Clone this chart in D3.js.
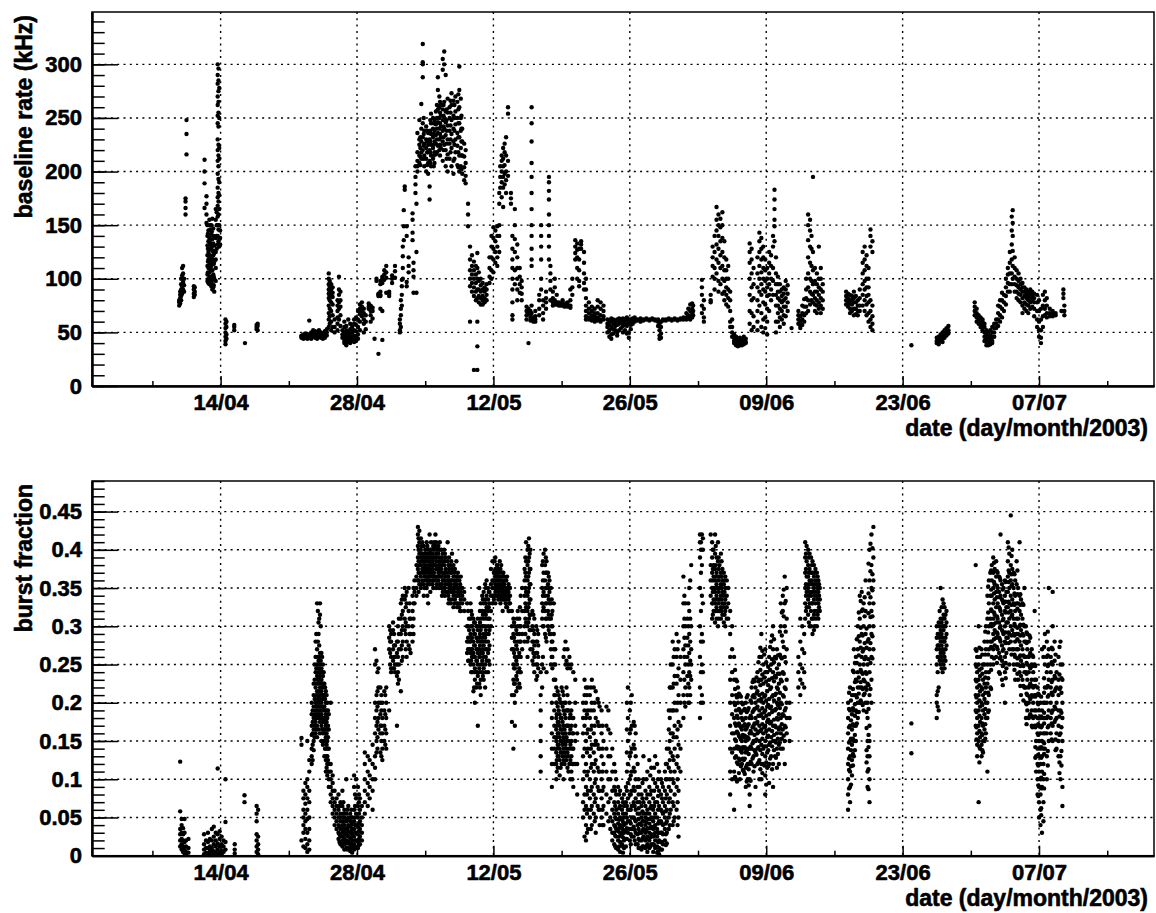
<!DOCTYPE html>
<html>
<head>
<meta charset="utf-8">
<script src="https://cdn.jsdelivr.net/npm/d3@7"></script>
<style>
  body { margin: 0; background: #fff; }
</style>
</head>
<body>
<svg id="chart" width="1156" height="913"></svg>
<script>
// each column: [days since 01/04/2003, value, value, ...]
const rateEarly = [
  [8.75, 75, 78, 80], [8.85, 77, 82, 85, 88], [8.95, 80, 84, 90, 95, 100], [9.05, 86, 93, 103, 110],
  [9.15, 90, 97, 105, 112], [9.25, 88, 94, 100], [9.4, 160, 166, 172, 175], [9.5, 216, 235, 248],
  [10.25, 83, 86, 90, 93], [10.35, 85, 88, 92],
  [11.35, 211, 200, 189, 166], [11.55, 177, 170, 160, 152], [11.65, 150, 140, 131, 122, 112, 104, 98],
  [11.75, 145, 135, 125, 118, 110, 100, 96], [11.85, 155, 138, 128, 119, 113, 106, 99, 95],
  [11.95, 146, 132, 121, 115, 109, 102, 97], [12.05, 150, 141, 128, 120, 112, 101, 93],
  [12.15, 156, 137, 126, 118, 108, 95, 90], [12.25, 147, 133, 122, 114, 104, 92],
  [12.35, 131, 124, 116, 100, 88], [12.5, 165, 155, 138, 125, 118, 110, 98], [12.6, 162, 150, 140, 128],
  [12.7, 300, 290, 282, 270, 262, 252, 245, 230, 220, 210, 198, 185, 176, 168, 158, 150, 140, 132],
  [12.78, 296, 285, 275, 265, 255, 242, 225, 215, 205, 193, 180, 172, 160, 146, 135],
  [12.86, 278, 250, 222, 212, 190, 178, 165, 150, 138, 130], [12.95, 145, 138, 132],
  [13.5, 62, 58, 54, 50, 46, 42, 39], [13.6, 60, 55, 48, 44], [14.4, 52, 55, 57], [15.5, 40],
  [16.7, 53, 55, 57], [16.8, 52, 56, 58],
  [21.3, 47, 46, 45], [21.5, 48, 46, 44], [21.7, 47, 45, 49], [21.9, 46, 44, 48], [22.1, 61, 48, 45],
  [22.3, 47, 50, 44], [22.5, 52, 48, 46], [22.7, 49, 45, 51], [22.9, 47, 44, 50], [23.1, 48, 46, 52],
  [23.3, 50, 45, 47], [23.5, 46, 44, 49], [23.7, 48, 45, 51], [23.9, 50, 47, 53],
  [24.1, 105, 100, 95, 90, 86, 82, 75, 68, 62, 55], [24.2, 98, 93, 88, 84, 80, 72, 65, 58],
  [24.35, 95, 90, 85, 78, 70, 60, 52], [24.5, 92, 87, 83, 76, 66, 55], [24.7, 62, 55, 50],
  [25.0, 80, 75, 70, 64, 58, 52], [25.15, 102, 90, 85, 78, 72, 62], [25.3, 88, 80, 74, 66, 56],
  [25.5, 52, 48, 45], [25.7, 60, 55, 50, 46, 42, 40], [25.9, 56, 52, 48, 45, 41, 38],
  [26.1, 62, 50, 47, 44, 41], [26.3, 58, 53, 49, 45, 42, 40], [26.5, 55, 50, 46, 43],
  [26.7, 62, 58, 52, 47, 44, 41], [26.9, 64, 57, 51, 46, 42], [27.1, 70, 62, 55, 48, 44],
  [27.3, 76, 72, 67, 60, 52], [27.5, 78, 74, 70, 65], [27.7, 72, 68, 62, 58, 50], [27.9, 66, 60, 53],
  [28.2, 77, 74, 72], [28.4, 75, 72, 70, 66, 60], [28.6, 73, 70, 63], [28.8, 44], [29.0, 100, 98],
  [29.2, 86, 85, 84, 30], [29.4, 98, 95, 88, 85, 84, 72], [29.6, 102, 100, 96, 70, 43],
  [29.8, 108, 104, 99]
];
const rateMid = [
  [30.0, 112, 106, 101, 87], [30.3, 84, 86, 88], [30.6, 103, 100, 96], [30.9, 112, 107, 101],
  [31.4, 62, 58, 52, 50], [31.5, 80, 72, 66, 55], [31.6, 99, 93, 85, 75], [31.7, 130, 121, 110, 100],
  [31.8, 164, 149, 136], [31.9, 186, 183], [32.1, 149, 140, 97, 93], [32.3, 120, 112, 106],
  [32.7, 161, 155, 143, 136], [32.8, 115, 108, 102, 87], [33.0, 205, 195, 188, 180], [33.1, 87, 125, 170],
  [33.2, 218, 210, 205, 236, 200], [33.4, 225, 215, 208, 248, 230], [33.6, 263, 240, 228, 218, 212],
  [33.75, 319, 302, 300, 288, 245, 232, 220], [33.9, 238, 226, 215, 205], [34.1, 242, 230, 222, 212, 200],
  [34.3, 236, 225, 218, 208, 198], [34.45, 230, 220, 210, 186, 174], [34.6, 254, 245, 235, 225, 215, 205],
  [34.8, 250, 240, 232, 222, 212], [34.95, 248, 238, 228, 218, 208], [35.1, 256, 244, 234, 226, 216],
  [35.3, 288, 276, 258, 246, 236, 224], [35.45, 270, 260, 250, 240, 230, 220], [35.6, 262, 252, 242, 232, 222],
  [35.8, 295, 305, 258, 248, 238, 228, 210], [35.95, 312, 300, 265, 250, 240, 225],
  [36.1, 290, 256, 246, 234, 220, 205], [36.3, 268, 255, 243, 230, 216, 200], [36.5, 260, 250, 238, 226, 212],
  [36.7, 273, 262, 248, 235, 222, 205], [36.9, 266, 252, 240, 228, 210, 198], [37.1, 270, 256, 244, 230, 218],
  [37.3, 265, 250, 236, 224, 206], [37.5, 298, 276, 260, 245, 232, 215, 200], [37.65, 268, 250, 238, 222, 205],
  [37.8, 240, 228, 215, 198], [38.0, 226, 214, 204, 192], [38.15, 220, 208, 196, 189], [38.4, 170, 160, 149],
  [38.6, 130, 118, 108, 100, 93, 60], [38.8, 122, 112, 104, 96, 88], [39.0, 116, 108, 100, 92, 84, 15],
  [39.2, 112, 104, 96, 88, 80], [39.35, 124, 110, 100, 90, 82, 60, 37, 15], [39.5, 106, 98, 90, 84, 78],
  [39.7, 100, 94, 88, 82, 76], [39.9, 96, 90, 84, 80, 76], [40.1, 92, 88, 82, 78], [40.3, 95, 90, 85, 80],
  [40.6, 120, 110, 102, 96], [40.8, 140, 130, 120, 108, 100], [41.0, 148, 138, 128, 118, 106],
  [41.2, 145, 135, 125, 115], [41.4, 149, 140, 130, 120, 112], [41.6, 180, 170, 150, 140, 125],
  [41.7, 205, 195, 185], [41.85, 215, 210, 200, 190, 176], [42.0, 222, 212, 205, 195, 185, 167],
  [42.15, 226, 218, 206, 198, 188], [42.3, 232, 215, 200, 192, 180], [42.5, 260, 254, 210, 196],
  [42.8, 180, 175, 170], [42.95, 140, 128, 118, 110, 100, 90, 78, 66, 62], [43.2, 165, 150, 137, 125, 108, 95],
  [43.45, 132, 120, 110, 100, 90, 80], [43.7, 110, 102, 95, 87], [43.9, 98, 92, 86, 80],
  [44.4, 74, 70, 66, 62], [44.6, 72, 68, 40], [44.8, 70, 66, 64, 61],
  [44.92, 260, 245, 228, 208, 195, 180, 165, 150, 140, 128, 118, 112, 75, 68], [45.1, 64, 62, 60],
  [45.3, 70, 65, 62, 60], [45.7, 85, 80, 72, 66], [45.9, 150, 140, 130, 118, 100, 90], [46.1, 80, 75, 68, 62],
  [46.4, 88, 82, 78, 72], [46.7, 195, 190, 182, 174, 160, 150, 140, 130, 118], [46.85, 112, 105, 98, 90, 80],
  [47.1, 88, 82, 78, 75], [47.3, 100, 92, 80, 76], [47.5, 85, 78, 76], [47.7, 78, 76, 75], [47.9, 77, 76, 75],
  [48.1, 80, 76, 75], [48.3, 77, 76, 74], [48.6, 78, 76, 74], [48.9, 90, 80, 75, 73], [49.1, 100, 92, 85],
  [49.4, 136, 130, 124, 118], [49.6, 133, 127, 120, 110, 100], [49.8, 128, 118, 108, 98, 93],
  [50.0, 135, 132, 128], [50.3, 125, 115, 105, 96, 90], [50.5, 100, 90, 82, 75, 70, 65, 62],
  [50.8, 78, 72, 68, 64, 62], [51.1, 74, 70, 66, 63, 61], [51.4, 72, 68, 65, 62, 60],
  [51.7, 80, 74, 68, 64, 61], [52.0, 78, 72, 66, 62, 60], [52.3, 75, 70, 65, 62],
  [52.7, 62, 58, 55, 50], [52.9, 61, 57, 52, 46], [53.1, 63, 60, 55, 48, 44], [53.3, 62, 58, 53, 49],
  [53.5, 61, 59, 56, 52], [53.7, 62, 57, 50, 47], [53.9, 63, 60, 58, 52], [54.1, 62, 59, 54],
  [54.3, 63, 60, 56, 50], [54.5, 62, 58, 52], [54.7, 64, 61, 56, 49], [54.9, 62, 58, 50, 45],
  [55.1, 62, 60, 57, 53], [55.3, 63, 61, 58], [55.5, 64, 62, 60], [55.8, 62, 61], [56.1, 63, 62, 60],
  [56.4, 62, 61], [56.7, 63, 62], [57.0, 62, 61], [57.3, 63, 62], [57.6, 62, 61], [57.9, 62, 60, 56],
  [58.05, 58, 52, 47, 44], [58.2, 60, 55, 49, 45], [58.4, 62, 61], [58.7, 62, 61], [59.0, 63, 62],
  [59.3, 62, 61], [59.6, 63, 62], [59.9, 62, 61], [60.2, 63, 62], [60.5, 64, 62], [60.8, 68, 64, 62],
  [61.0, 72, 66, 63], [61.2, 76, 70, 65, 62], [61.4, 77, 72, 68, 64], [61.5, 75, 70, 66],
  [62.4, 99, 92, 85, 75, 68], [62.6, 80, 72, 64, 60]
];
const rateLate = [
  [63.3, 85, 80, 78], [63.5, 130, 120, 112, 102], [63.7, 140, 125, 110, 100, 90],
  [63.9, 167, 155, 145, 132, 118, 105], [64.1, 160, 150, 140, 128, 115, 98, 88],
  [64.3, 156, 148, 135, 122, 110, 95], [64.5, 162, 150, 138, 125, 112, 100, 86],
  [64.7, 135, 120, 108, 98, 88, 80], [64.9, 118, 108, 100, 92, 85, 76], [65.1, 112, 100, 90, 82, 74],
  [65.3, 88, 80, 70, 60, 55], [65.5, 62, 55, 50, 46], [65.7, 48, 45, 42, 40], [65.9, 46, 43, 40, 38],
  [66.1, 44, 41, 39, 37], [66.3, 45, 42, 39, 38], [66.5, 43, 40, 38], [66.7, 46, 42, 39], [66.9, 44, 41, 40],
  [67.3, 133, 125, 115, 100, 85, 70, 58], [67.5, 128, 118, 105, 92, 80, 68, 52], [67.7, 110, 95, 82, 65, 55],
  [68.1, 120, 105, 92, 80, 70, 60, 52], [68.3, 143, 135, 125, 112, 100, 88, 75],
  [68.5, 138, 128, 118, 106, 95, 85, 68, 55], [68.7, 130, 120, 110, 100, 90, 78, 62, 50],
  [68.9, 118, 108, 98, 88, 76, 64, 54], [69.1, 110, 100, 92, 84, 72, 60, 48], [69.3, 125, 115, 105, 95, 85, 70],
  [69.5, 122, 112, 100, 90, 80], [69.7, 140, 130, 110, 98, 85], [69.85, 183, 174, 165, 155, 149, 135],
  [70.0, 120, 105, 95, 85, 75, 60, 50], [70.2, 102, 95, 88, 82, 75, 68, 60], [70.4, 95, 88, 80, 72, 64, 55],
  [70.6, 90, 84, 78, 70, 62], [70.8, 92, 86, 80, 74, 66, 58], [71.0, 98, 90, 82, 74, 65], [71.2, 94, 86, 78, 70],
  [71.6, 54], [72.3, 70, 66, 62, 58], [72.5, 65, 60, 56, 54], [72.7, 75, 68, 62, 57], [72.9, 81, 74, 66, 60],
  [73.1, 100, 90, 82, 74, 68], [73.3, 160, 150, 136, 120, 105, 92, 80, 70], [73.5, 155, 145, 130, 115, 100, 88, 76],
  [73.65, 140, 128, 112, 98, 86, 80], [73.8, 195, 125, 108, 95, 85, 78], [74.0, 110, 98, 88, 82, 76, 70],
  [74.2, 105, 95, 88, 80, 75, 68], [74.4, 130, 100, 92, 85, 78, 72], [74.6, 110, 100, 90, 82, 75, 68],
  [74.8, 95, 88, 80, 72],
  [77.2, 88, 84, 80, 76], [77.4, 86, 82, 78, 74], [77.6, 85, 80, 77, 72, 68], [77.8, 84, 80, 76, 70],
  [78.0, 88, 82, 78, 72, 66], [78.2, 84, 78, 72, 67], [78.4, 80, 75, 70, 66], [78.6, 90, 82, 75, 70],
  [78.9, 125, 115, 105, 95, 85, 75], [79.1, 130, 118, 108, 98, 90, 80, 70], [79.3, 122, 112, 100, 92, 84, 76, 66],
  [79.5, 110, 100, 92, 85, 78, 68, 60], [79.7, 146, 140, 130, 80, 70, 62, 55], [79.9, 135, 125, 75, 65, 58, 52],
  [83.9, 38],
  [86.5, 45, 42, 40], [86.7, 46, 43, 41, 39], [86.9, 48, 45, 42], [87.1, 50, 47, 44, 41], [87.3, 52, 48, 45],
  [87.5, 54, 50, 47], [87.7, 56, 52, 49],
  [90.4, 78, 74, 70, 66], [90.6, 72, 68, 64, 60], [90.8, 66, 62, 60, 58], [91.0, 64, 62, 58, 55],
  [91.2, 62, 60, 56, 52], [91.4, 58, 55, 50, 46, 42], [91.6, 52, 48, 44, 41, 38], [91.8, 50, 46, 43, 40, 38],
  [92.0, 52, 47, 44, 41, 39], [92.2, 55, 50, 46, 42, 40], [92.4, 58, 54, 50, 46], [92.6, 62, 58, 54],
  [92.8, 75, 68, 62, 56], [93.0, 80, 74, 66, 60], [93.2, 87, 80, 72, 64], [93.4, 85, 78, 70],
  [93.6, 100, 92, 84, 76], [93.8, 110, 104, 96, 88], [94.0, 125, 115, 105, 95, 88],
  [94.2, 158, 145, 132, 118, 105, 95], [94.3, 164, 152, 140, 126, 112, 100], [94.5, 120, 110, 102, 95, 88],
  [94.7, 108, 100, 94, 88, 82], [94.9, 105, 98, 92, 86, 80], [95.1, 100, 95, 90, 85, 78],
  [95.3, 96, 92, 88, 82, 75, 68], [95.5, 92, 88, 84, 78, 72], [95.7, 90, 86, 82, 76, 70],
  [95.9, 88, 84, 80, 75, 68], [96.1, 90, 86, 82, 78, 72], [96.3, 88, 84, 80, 74], [96.5, 86, 82, 78, 72, 65],
  [96.8, 85, 78, 70, 62, 55], [97.0, 80, 70, 60, 52, 46], [97.2, 72, 62, 52, 45, 40], [97.4, 85, 75, 65, 55],
  [97.6, 88, 80, 72, 66], [97.8, 82, 75, 68, 64], [98.1, 72, 68, 65], [98.4, 70, 67, 65], [98.7, 68, 66],
  [99.3, 70], [99.5, 90, 86, 82], [99.6, 75, 70, 66]
];
// extra readings in the densest stretches
const rateDense = [
  [11.7, 142, 128, 116, 106, 97], [11.9, 150, 134, 122, 112, 102], [12.1, 144, 130, 118, 108, 98],
  [12.3, 140, 126, 114, 102, 94],
  [33.5, 232, 222, 214, 206], [33.85, 250, 235, 224, 212], [34.2, 238, 228, 218, 206],
  [34.52, 248, 238, 228, 218, 208], [34.88, 245, 235, 225, 215, 205], [35.2, 262, 250, 240, 230, 218],
  [35.52, 265, 255, 245, 235, 225, 215], [35.88, 262, 252, 242, 232, 220], [36.2, 258, 248, 238, 226, 212],
  [36.6, 266, 255, 243, 230, 218], [37.0, 262, 250, 238, 225, 212], [37.4, 272, 258, 245, 232, 218, 204],
  [37.72, 252, 240, 228, 215, 202]
];

const burstEarly = [
  [8.85, 0.123, 0.058, 0.035, 0.028, 0.02, 0.012], [9.0, 0.048, 0.04, 0.03, 0.022, 0.015, 0.008],
  [9.15, 0.036, 0.028, 0.02, 0.012, 0.005], [9.3, 0.048, 0.03, 0.018, 0.008, 0.003],
  [9.45, 0.02, 0.012, 0.005, 0.002], [9.7, 0.022, 0.01, 0.004],
  [11.3, 0.028, 0.015, 0.008, 0.002], [11.5, 0.02, 0.01, 0.004], [11.7, 0.03, 0.018, 0.01, 0.003],
  [11.9, 0.022, 0.012, 0.006, 0.001], [12.1, 0.035, 0.02, 0.01, 0.004], [12.3, 0.038, 0.025, 0.015, 0.006, 0.002],
  [12.5, 0.03, 0.02, 0.012, 0.005], [12.7, 0.114, 0.028, 0.016, 0.008, 0.002], [12.9, 0.032, 0.022, 0.012, 0.004],
  [13.1, 0.025, 0.015, 0.007, 0.002], [13.3, 0.02, 0.012, 0.005], [13.5, 0.1, 0.044, 0.018, 0.008],
  [14.45, 0.015, 0.008, 0.003], [15.45, 0.079, 0.07],
  [16.7, 0.065, 0.055, 0.045, 0.028, 0.02, 0.012, 0.005], [16.85, 0.06, 0.025, 0.015, 0.008, 0.002],
  [21.3, 0.154, 0.145, 0.02], [21.5, 0.085, 0.075, 0.06, 0.05, 0.04, 0.03, 0.012],
  [21.7, 0.095, 0.08, 0.068, 0.055, 0.045, 0.035, 0.022, 0.01],
  [21.9, 0.15, 0.1, 0.09, 0.075, 0.06, 0.048, 0.03, 0.015, 0.005],
  [22.1, 0.125, 0.11, 0.085, 0.07, 0.05, 0.035, 0.02, 0.008],
  [22.35, 0.2, 0.185, 0.17, 0.158, 0.14, 0.13, 0.12], [22.55, 0.225, 0.21, 0.195, 0.18, 0.165, 0.15, 0.138],
  [22.75, 0.28, 0.26, 0.24, 0.22, 0.2, 0.19, 0.175, 0.16],
  [22.9, 0.33, 0.27, 0.25, 0.235, 0.215, 0.2, 0.185, 0.17, 0.155],
  [23.05, 0.305, 0.29, 0.255, 0.24, 0.225, 0.21, 0.195, 0.18, 0.165],
  [23.2, 0.33, 0.315, 0.265, 0.25, 0.235, 0.22, 0.205, 0.19, 0.175, 0.16],
  [23.35, 0.265, 0.245, 0.23, 0.215, 0.2, 0.185, 0.17, 0.15],
  [23.5, 0.25, 0.235, 0.22, 0.205, 0.19, 0.175, 0.16, 0.145],
  [23.65, 0.225, 0.21, 0.195, 0.18, 0.165, 0.15, 0.13],
  [23.8, 0.215, 0.2, 0.185, 0.17, 0.155, 0.14, 0.125, 0.11],
  [23.95, 0.2, 0.18, 0.165, 0.15, 0.13, 0.12, 0.105], [24.1, 0.185, 0.165, 0.14, 0.12, 0.11, 0.1, 0.09],
  [24.3, 0.2, 0.12, 0.11, 0.1, 0.09, 0.08, 0.07], [24.5, 0.105, 0.095, 0.085, 0.075, 0.065, 0.055],
  [24.7, 0.085, 0.07, 0.06, 0.05, 0.04], [24.9, 0.075, 0.065, 0.055, 0.045, 0.035],
  [25.1, 0.08, 0.06, 0.05, 0.04, 0.03, 0.022], [25.3, 0.07, 0.055, 0.045, 0.035, 0.025, 0.015],
  [25.5, 0.085, 0.065, 0.05, 0.04, 0.03, 0.02, 0.012], [25.7, 0.06, 0.05, 0.04, 0.03, 0.022, 0.015, 0.008],
  [25.9, 0.1, 0.055, 0.045, 0.035, 0.028, 0.02, 0.01], [26.1, 0.065, 0.05, 0.04, 0.032, 0.025, 0.018, 0.01],
  [26.3, 0.055, 0.045, 0.038, 0.03, 0.022, 0.015, 0.006], [26.5, 0.05, 0.042, 0.035, 0.028, 0.02, 0.012, 0.004],
  [26.7, 0.105, 0.09, 0.06, 0.045, 0.035, 0.025, 0.015, 0.008], [26.9, 0.1, 0.075, 0.055, 0.04, 0.03, 0.02, 0.01],
  [27.1, 0.09, 0.065, 0.05, 0.038, 0.028, 0.018, 0.01], [27.3, 0.075, 0.06, 0.045, 0.035, 0.025, 0.015],
  [27.5, 0.065, 0.05, 0.04, 0.03, 0.02], [27.8, 0.135, 0.12, 0.1, 0.085, 0.07, 0.055],
  [28.1, 0.13, 0.11, 0.095, 0.08, 0.065], [28.3, 0.125, 0.105, 0.09, 0.075], [28.6, 0.145, 0.12, 0.1, 0.085, 0.06],
  [28.85, 0.27, 0.25, 0.2, 0.18, 0.16, 0.13, 0.115, 0.1], [29.0, 0.255, 0.21, 0.19, 0.17, 0.15, 0.135],
  [29.2, 0.245, 0.22, 0.2, 0.18, 0.165], [29.4, 0.22, 0.2, 0.185, 0.16, 0.135, 0.17],
  [29.6, 0.2, 0.18, 0.16, 0.14, 0.125], [29.8, 0.215, 0.19, 0.17, 0.15]
];
const burstMid = [
  [30.0, 0.22, 0.2, 0.18, 0.16, 0.14], [30.3, 0.3, 0.285, 0.27, 0.19], [30.5, 0.29, 0.28, 0.26, 0.245, 0.24],
  [30.7, 0.305, 0.295, 0.27, 0.255, 0.245], [30.9, 0.275, 0.26, 0.25, 0.24], [31.1, 0.28, 0.265, 0.25, 0.235, 0.17],
  [31.3, 0.31, 0.29, 0.27, 0.25, 0.23], [31.5, 0.33, 0.31, 0.29, 0.27, 0.215], [31.7, 0.34, 0.32, 0.3, 0.28, 0.26],
  [31.9, 0.35, 0.335, 0.31, 0.295], [32.1, 0.345, 0.33, 0.3, 0.28, 0.26], [32.3, 0.35, 0.32, 0.3, 0.275],
  [32.5, 0.31, 0.29, 0.265], [32.7, 0.34, 0.32, 0.3, 0.28], [32.9, 0.36, 0.345, 0.33],
  [33.1, 0.38, 0.365, 0.35, 0.34], [33.25, 0.43, 0.42, 0.405, 0.39, 0.375, 0.36],
  [33.4, 0.425, 0.41, 0.395, 0.38, 0.37, 0.355], [33.55, 0.415, 0.4, 0.39, 0.38, 0.365, 0.35],
  [33.7, 0.41, 0.395, 0.385, 0.375, 0.36], [33.85, 0.405, 0.39, 0.38, 0.37, 0.355, 0.34],
  [34.0, 0.4, 0.39, 0.38, 0.37, 0.36], [34.15, 0.41, 0.395, 0.385, 0.375, 0.365, 0.35],
  [34.3, 0.4, 0.39, 0.38, 0.37, 0.36, 0.33], [34.45, 0.42, 0.395, 0.385, 0.375, 0.365, 0.355],
  [34.6, 0.41, 0.4, 0.39, 0.38, 0.37], [34.75, 0.395, 0.385, 0.375, 0.365, 0.355],
  [34.9, 0.41, 0.4, 0.39, 0.38, 0.37, 0.36], [35.05, 0.42, 0.405, 0.39, 0.38, 0.365],
  [35.2, 0.4, 0.39, 0.375, 0.365, 0.355], [35.35, 0.405, 0.395, 0.38, 0.37, 0.36],
  [35.5, 0.41, 0.39, 0.38, 0.37, 0.355], [35.65, 0.4, 0.385, 0.375, 0.365, 0.35],
  [35.8, 0.395, 0.385, 0.37, 0.36, 0.345], [35.95, 0.4, 0.38, 0.37, 0.36, 0.35],
  [36.1, 0.39, 0.375, 0.365, 0.355, 0.345], [36.3, 0.41, 0.385, 0.37, 0.36, 0.345],
  [36.45, 0.39, 0.375, 0.36, 0.35, 0.335], [36.6, 0.38, 0.37, 0.355, 0.345, 0.33],
  [36.75, 0.395, 0.375, 0.36, 0.345], [36.9, 0.38, 0.365, 0.35, 0.34, 0.325], [37.05, 0.375, 0.36, 0.35, 0.335],
  [37.2, 0.385, 0.365, 0.355, 0.34, 0.33], [37.35, 0.37, 0.36, 0.345, 0.33], [37.5, 0.36, 0.35, 0.34, 0.325],
  [37.65, 0.365, 0.345, 0.335, 0.32], [37.8, 0.35, 0.34, 0.33], [38.0, 0.345, 0.335, 0.32],
  [38.3, 0.33, 0.3, 0.28, 0.265], [38.5, 0.31, 0.295, 0.28, 0.27, 0.255],
  [38.65, 0.33, 0.31, 0.29, 0.28, 0.265, 0.25], [38.8, 0.315, 0.3, 0.285, 0.27, 0.26, 0.24],
  [38.95, 0.31, 0.295, 0.28, 0.265, 0.25, 0.215], [39.1, 0.305, 0.29, 0.275, 0.26, 0.245, 0.23, 0.2],
  [39.25, 0.3, 0.285, 0.27, 0.255, 0.24, 0.22], [39.4, 0.31, 0.295, 0.28, 0.265, 0.25, 0.235, 0.17],
  [39.55, 0.35, 0.3, 0.285, 0.27, 0.26, 0.245, 0.225], [39.7, 0.33, 0.31, 0.295, 0.28, 0.265, 0.25, 0.23, 0.21],
  [39.85, 0.34, 0.32, 0.3, 0.285, 0.27, 0.255, 0.24], [40.0, 0.345, 0.33, 0.31, 0.29, 0.275, 0.26, 0.245, 0.23],
  [40.15, 0.355, 0.335, 0.32, 0.3, 0.285, 0.27, 0.25, 0.22], [40.3, 0.36, 0.34, 0.325, 0.31, 0.29, 0.27, 0.255],
  [40.45, 0.35, 0.335, 0.32, 0.3, 0.28, 0.265, 0.24], [40.6, 0.345, 0.33, 0.31, 0.295, 0.275, 0.25],
  [40.75, 0.375, 0.355, 0.34, 0.32, 0.3], [40.9, 0.385, 0.36, 0.35, 0.34, 0.33],
  [41.05, 0.37, 0.36, 0.35, 0.34, 0.335], [41.2, 0.39, 0.375, 0.365, 0.355, 0.345, 0.33],
  [41.35, 0.38, 0.37, 0.36, 0.35, 0.34], [41.5, 0.375, 0.365, 0.355, 0.345, 0.335],
  [41.65, 0.385, 0.37, 0.36, 0.35, 0.34], [41.8, 0.38, 0.365, 0.355, 0.345, 0.335],
  [41.95, 0.37, 0.36, 0.35, 0.34, 0.32], [42.1, 0.365, 0.355, 0.345, 0.335], [42.25, 0.36, 0.35, 0.34, 0.33],
  [42.4, 0.365, 0.35, 0.34, 0.325], [42.55, 0.355, 0.345, 0.335, 0.32], [42.7, 0.35, 0.34, 0.33],
  [42.9, 0.32, 0.3, 0.285, 0.27, 0.21, 0.175], [43.05, 0.31, 0.29, 0.27, 0.25, 0.23, 0.14],
  [43.2, 0.3, 0.28, 0.26, 0.245, 0.225, 0.2, 0.17], [43.35, 0.295, 0.275, 0.255, 0.235, 0.215],
  [43.5, 0.32, 0.3, 0.28, 0.26, 0.24, 0.22], [43.65, 0.31, 0.29, 0.265, 0.245, 0.225],
  [43.8, 0.34, 0.3, 0.28, 0.26, 0.24], [43.95, 0.35, 0.32, 0.29, 0.27],
  [44.2, 0.375, 0.36, 0.34, 0.32, 0.3, 0.28], [44.35, 0.41, 0.385, 0.365, 0.345, 0.325, 0.305],
  [44.5, 0.4, 0.38, 0.36, 0.34, 0.32, 0.3, 0.28, 0.26], [44.65, 0.415, 0.39, 0.37, 0.35, 0.33, 0.31],
  [44.8, 0.4, 0.375, 0.355, 0.335, 0.315, 0.295, 0.27], [45.0, 0.32, 0.3, 0.28, 0.27, 0.255],
  [45.2, 0.31, 0.29, 0.275, 0.26, 0.24], [45.4, 0.3, 0.28, 0.265, 0.25, 0.23], [45.6, 0.29, 0.275, 0.26, 0.245],
  [45.85, 0.24, 0.21, 0.19, 0.17, 0.15, 0.13, 0.11], [46.0, 0.38, 0.35, 0.33, 0.31, 0.25, 0.22],
  [46.15, 0.395, 0.37, 0.345, 0.325, 0.3, 0.245], [46.3, 0.4, 0.38, 0.36, 0.34, 0.32, 0.29],
  [46.45, 0.385, 0.37, 0.35, 0.33, 0.31, 0.28, 0.24], [46.6, 0.37, 0.355, 0.34, 0.32, 0.3],
  [46.75, 0.36, 0.345, 0.33, 0.31, 0.29], [46.9, 0.35, 0.33, 0.31, 0.29, 0.27, 0.25],
  [47.05, 0.32, 0.3, 0.28, 0.26, 0.245], [47.2, 0.33, 0.29, 0.27, 0.25, 0.23], [47.35, 0.27, 0.25, 0.23, 0.21],
  [47.0, 0.2, 0.18, 0.16, 0.14, 0.12, 0.09], [47.25, 0.21, 0.19, 0.17, 0.155, 0.14, 0.12],
  [47.45, 0.22, 0.2, 0.18, 0.165, 0.15, 0.135, 0.12, 0.1], [47.6, 0.215, 0.195, 0.175, 0.16, 0.145, 0.13, 0.115],
  [47.8, 0.205, 0.185, 0.17, 0.155, 0.14, 0.125, 0.105], [48.0, 0.22, 0.2, 0.18, 0.165, 0.15, 0.135, 0.12],
  [48.2, 0.26, 0.21, 0.19, 0.17, 0.155, 0.14, 0.125, 0.1], [48.4, 0.28, 0.25, 0.2, 0.18, 0.16, 0.145, 0.13],
  [48.6, 0.27, 0.245, 0.21, 0.19, 0.17, 0.15, 0.135, 0.115], [48.8, 0.26, 0.2, 0.18, 0.16, 0.14, 0.12],
  [49.0, 0.25, 0.19, 0.17, 0.15, 0.13, 0.11], [49.2, 0.24, 0.18, 0.16, 0.14, 0.12, 0.09],
  [49.4, 0.23, 0.2, 0.17, 0.15, 0.12], [49.6, 0.16, 0.12, 0.08],
  [50.2, 0.2, 0.18, 0.16, 0.13, 0.1, 0.07, 0.05], [50.35, 0.23, 0.21, 0.19, 0.17, 0.14, 0.11, 0.08, 0.06, 0.025],
  [50.5, 0.22, 0.2, 0.18, 0.15, 0.12, 0.09, 0.065, 0.04, 0.02], [50.7, 0.22, 0.19, 0.165, 0.14, 0.11, 0.085, 0.06, 0.035],
  [50.9, 0.21, 0.18, 0.155, 0.13, 0.1, 0.075, 0.05], [51.1, 0.23, 0.2, 0.17, 0.145, 0.12, 0.09, 0.065, 0.04],
  [51.3, 0.22, 0.19, 0.16, 0.135, 0.11, 0.08, 0.055], [51.5, 0.215, 0.18, 0.15, 0.125, 0.1, 0.075, 0.05, 0.03],
  [51.7, 0.205, 0.175, 0.145, 0.115, 0.09, 0.065], [51.9, 0.195, 0.17, 0.14, 0.11, 0.085, 0.06, 0.04],
  [52.1, 0.19, 0.16, 0.13, 0.1, 0.075, 0.05], [52.3, 0.15, 0.12, 0.09, 0.065, 0.04],
  [52.6, 0.195, 0.17, 0.14, 0.11, 0.08, 0.055], [52.8, 0.19, 0.165, 0.13, 0.1, 0.07, 0.045],
  [53.0, 0.16, 0.13, 0.1, 0.075, 0.05, 0.035], [53.2, 0.14, 0.11, 0.085, 0.06, 0.045, 0.03, 0.02],
  [53.4, 0.12, 0.09, 0.07, 0.055, 0.04, 0.03, 0.015], [53.6, 0.1, 0.08, 0.06, 0.048, 0.035, 0.025, 0.01],
  [53.8, 0.09, 0.07, 0.055, 0.042, 0.032, 0.02, 0.008], [54.0, 0.085, 0.065, 0.05, 0.04, 0.03, 0.018, 0.005],
  [54.2, 0.075, 0.06, 0.048, 0.038, 0.028, 0.015], [54.4, 0.08, 0.065, 0.05, 0.04, 0.03, 0.02, 0.01],
  [54.6, 0.09, 0.07, 0.055, 0.042, 0.032, 0.022, 0.012],
  [54.8, 0.22, 0.18, 0.15, 0.12, 0.095, 0.075, 0.06, 0.045, 0.03],
  [55.0, 0.19, 0.16, 0.13, 0.1, 0.08, 0.06, 0.045, 0.035, 0.02],
  [55.2, 0.21, 0.17, 0.14, 0.11, 0.085, 0.065, 0.05, 0.035, 0.025],
  [55.4, 0.175, 0.145, 0.115, 0.09, 0.07, 0.05, 0.038, 0.025],
  [55.6, 0.16, 0.13, 0.1, 0.075, 0.06, 0.045, 0.03, 0.015], [55.8, 0.12, 0.09, 0.07, 0.055, 0.04, 0.028, 0.015],
  [56.0, 0.09, 0.07, 0.055, 0.042, 0.03, 0.02, 0.01], [56.2, 0.08, 0.065, 0.05, 0.04, 0.03, 0.02, 0.008],
  [56.4, 0.13, 0.1, 0.07, 0.055, 0.045, 0.035, 0.025, 0.012], [56.6, 0.085, 0.065, 0.05, 0.04, 0.03, 0.02, 0.01],
  [56.8, 0.11, 0.08, 0.06, 0.048, 0.036, 0.025, 0.015, 0.005], [57.0, 0.125, 0.09, 0.07, 0.055, 0.042, 0.03, 0.02, 0.01],
  [57.2, 0.115, 0.085, 0.065, 0.05, 0.038, 0.028, 0.015], [57.4, 0.1, 0.075, 0.06, 0.045, 0.035, 0.025, 0.015, 0.005],
  [57.6, 0.13, 0.095, 0.07, 0.055, 0.04, 0.03, 0.02, 0.01], [57.8, 0.12, 0.09, 0.07, 0.05, 0.035, 0.025, 0.012, 0.004],
  [58.0, 0.11, 0.085, 0.065, 0.045, 0.03, 0.02, 0.01, 0.002], [58.2, 0.1, 0.08, 0.06, 0.045, 0.03, 0.018, 0.008],
  [58.4, 0.09, 0.07, 0.055, 0.04, 0.028, 0.015], [58.6, 0.11, 0.085, 0.065, 0.05, 0.035, 0.02],
  [58.8, 0.14, 0.12, 0.1, 0.08, 0.06, 0.045, 0.03, 0.016], [59.0, 0.19, 0.165, 0.14, 0.115, 0.09, 0.07, 0.05, 0.035],
  [59.2, 0.25, 0.22, 0.19, 0.16, 0.135, 0.11, 0.085, 0.06], [59.4, 0.28, 0.25, 0.22, 0.19, 0.16, 0.13, 0.1, 0.07, 0.04],
  [59.6, 0.27, 0.235, 0.2, 0.17, 0.14, 0.11, 0.08, 0.05], [59.8, 0.29, 0.26, 0.225, 0.19, 0.155, 0.12, 0.09, 0.06],
  [60.0, 0.28, 0.245, 0.21, 0.175, 0.145, 0.115, 0.085, 0.05, 0.025], [60.2, 0.26, 0.23, 0.2, 0.17, 0.14, 0.11],
  [60.5, 0.365, 0.33, 0.3, 0.27, 0.24, 0.21, 0.18], [60.7, 0.33, 0.3, 0.275, 0.25, 0.22, 0.195],
  [60.9, 0.31, 0.285, 0.26, 0.235, 0.21], [61.1, 0.35, 0.32, 0.29, 0.265, 0.24, 0.22, 0.2],
  [61.3, 0.38, 0.3, 0.27, 0.25, 0.23], [62.2, 0.42, 0.41, 0.39, 0.35, 0.3, 0.26, 0.22, 0.18],
  [62.5, 0.415, 0.4, 0.33, 0.28, 0.24, 0.2]
];
const burstLate = [
  [63.3, 0.42, 0.38, 0.36, 0.34], [63.45, 0.41, 0.39, 0.37, 0.35, 0.33, 0.31],
  [63.6, 0.4, 0.38, 0.365, 0.35, 0.335, 0.32], [63.75, 0.42, 0.395, 0.375, 0.36, 0.345, 0.33, 0.305],
  [63.9, 0.39, 0.37, 0.355, 0.34, 0.325, 0.31], [64.05, 0.41, 0.385, 0.365, 0.35, 0.335, 0.32, 0.3],
  [64.2, 0.38, 0.365, 0.35, 0.335, 0.32], [64.35, 0.395, 0.37, 0.355, 0.34, 0.325, 0.31],
  [64.5, 0.375, 0.36, 0.345, 0.33, 0.315], [64.65, 0.37, 0.355, 0.34, 0.325, 0.305],
  [64.8, 0.365, 0.35, 0.335, 0.32, 0.3], [64.95, 0.36, 0.34, 0.325, 0.31], [65.1, 0.35, 0.33, 0.31],
  [65.3, 0.32, 0.29, 0.26, 0.23, 0.2, 0.17, 0.14, 0.11, 0.08], [65.5, 0.3, 0.27, 0.24, 0.21, 0.185, 0.16, 0.135, 0.1],
  [65.7, 0.26, 0.23, 0.2, 0.18, 0.16, 0.14, 0.11, 0.06], [65.9, 0.23, 0.21, 0.19, 0.17, 0.15, 0.13, 0.1],
  [66.1, 0.22, 0.2, 0.18, 0.16, 0.14, 0.12], [66.3, 0.21, 0.19, 0.17, 0.155, 0.14, 0.125, 0.1],
  [66.5, 0.2, 0.18, 0.165, 0.15, 0.135, 0.12], [66.7, 0.19, 0.17, 0.155, 0.14, 0.125, 0.11],
  [66.9, 0.2, 0.18, 0.165, 0.15, 0.135, 0.115, 0.09], [67.1, 0.21, 0.19, 0.17, 0.155, 0.14, 0.12, 0.1],
  [67.3, 0.18, 0.16, 0.14, 0.12, 0.1, 0.08, 0.065], [67.5, 0.22, 0.2, 0.18, 0.16, 0.14, 0.12],
  [67.7, 0.23, 0.21, 0.19, 0.17, 0.15, 0.13, 0.11], [67.9, 0.22, 0.2, 0.18, 0.165, 0.15, 0.135, 0.09],
  [68.1, 0.24, 0.215, 0.195, 0.175, 0.16, 0.14, 0.12], [68.3, 0.26, 0.23, 0.21, 0.19, 0.17, 0.15, 0.125, 0.1],
  [68.5, 0.29, 0.26, 0.23, 0.205, 0.185, 0.165, 0.145, 0.12, 0.1], [68.7, 0.25, 0.225, 0.2, 0.18, 0.16, 0.14, 0.12],
  [68.9, 0.27, 0.24, 0.21, 0.19, 0.17, 0.15, 0.13, 0.105, 0.08], [69.1, 0.24, 0.215, 0.195, 0.175, 0.155, 0.135, 0.115],
  [69.3, 0.26, 0.23, 0.205, 0.185, 0.165, 0.145, 0.12, 0.095], [69.5, 0.28, 0.25, 0.22, 0.195, 0.175, 0.155, 0.13],
  [69.7, 0.3, 0.27, 0.24, 0.21, 0.19, 0.17, 0.15, 0.12, 0.09], [69.9, 0.26, 0.235, 0.21, 0.19, 0.17, 0.15, 0.13],
  [70.1, 0.27, 0.245, 0.22, 0.2, 0.18, 0.16, 0.14, 0.115], [70.3, 0.25, 0.225, 0.205, 0.185, 0.165, 0.145, 0.12],
  [70.5, 0.33, 0.3, 0.26, 0.23, 0.2, 0.18, 0.16, 0.14], [70.7, 0.34, 0.32, 0.28, 0.24, 0.21, 0.185, 0.165, 0.14],
  [70.9, 0.365, 0.33, 0.3, 0.26, 0.22, 0.19, 0.17, 0.15, 0.12], [71.1, 0.35, 0.31, 0.27, 0.23, 0.2, 0.18, 0.16],
  [71.4, 0.2, 0.18, 0.15], [72.3, 0.22, 0.24, 0.26], [72.5, 0.31, 0.28, 0.25, 0.23, 0.21],
  [72.7, 0.3, 0.27, 0.245, 0.225], [72.9, 0.29, 0.265, 0.24, 0.22],
  [73.0, 0.41, 0.39, 0.37, 0.35, 0.33, 0.31], [73.15, 0.405, 0.385, 0.365, 0.345, 0.325],
  [73.3, 0.4, 0.38, 0.365, 0.35, 0.335, 0.315], [73.45, 0.395, 0.375, 0.36, 0.345, 0.33, 0.3],
  [73.6, 0.39, 0.37, 0.355, 0.34, 0.32, 0.3], [73.75, 0.385, 0.37, 0.355, 0.345, 0.33, 0.31, 0.29],
  [73.9, 0.38, 0.365, 0.35, 0.335, 0.315, 0.295], [74.05, 0.375, 0.36, 0.345, 0.33, 0.31],
  [74.2, 0.37, 0.355, 0.34, 0.32, 0.3], [74.35, 0.36, 0.345, 0.33, 0.31], [74.5, 0.35, 0.335, 0.32],
  [77.4, 0.2, 0.18, 0.16, 0.14, 0.12, 0.1, 0.08, 0.06], [77.6, 0.22, 0.19, 0.17, 0.15, 0.13, 0.11, 0.09, 0.07],
  [77.8, 0.21, 0.185, 0.165, 0.145, 0.125, 0.105], [78.0, 0.27, 0.24, 0.21, 0.19, 0.17, 0.15, 0.13],
  [78.2, 0.26, 0.23, 0.21, 0.19, 0.17, 0.15], [78.4, 0.3, 0.27, 0.24, 0.22, 0.2, 0.18],
  [78.6, 0.34, 0.31, 0.28, 0.25, 0.22, 0.2], [78.8, 0.345, 0.32, 0.29, 0.26, 0.24, 0.22, 0.2],
  [79.0, 0.33, 0.3, 0.27, 0.25, 0.23, 0.21, 0.19], [79.2, 0.36, 0.32, 0.29, 0.26, 0.24, 0.22, 0.2],
  [79.4, 0.28, 0.25, 0.225, 0.2, 0.18, 0.15, 0.13, 0.11, 0.09],
  [79.6, 0.4, 0.36, 0.33, 0.3, 0.27, 0.24, 0.21, 0.17, 0.15, 0.13, 0.1, 0.07],
  [79.8, 0.42, 0.38, 0.35, 0.32, 0.29, 0.26, 0.23, 0.2], [80.0, 0.43, 0.39, 0.36, 0.33, 0.3, 0.27],
  [83.9, 0.173, 0.134],
  [86.5, 0.3, 0.285, 0.27, 0.25, 0.21, 0.2, 0.18], [86.7, 0.305, 0.29, 0.275, 0.26, 0.22, 0.19],
  [86.9, 0.35, 0.31, 0.295, 0.28, 0.265, 0.25], [87.1, 0.335, 0.31, 0.3, 0.285, 0.27, 0.255, 0.24],
  [87.3, 0.325, 0.31, 0.3, 0.28, 0.26, 0.245], [87.5, 0.32, 0.305, 0.29, 0.275],
  [90.5, 0.38, 0.27, 0.25, 0.23, 0.21, 0.19, 0.17], [90.65, 0.26, 0.24, 0.22, 0.2, 0.18, 0.16, 0.145, 0.13],
  [90.8, 0.3, 0.25, 0.23, 0.21, 0.19, 0.17, 0.15, 0.07], [90.95, 0.26, 0.235, 0.215, 0.195, 0.175, 0.155, 0.14],
  [91.1, 0.27, 0.245, 0.22, 0.2, 0.18, 0.16, 0.145, 0.13], [91.25, 0.25, 0.23, 0.21, 0.19, 0.17, 0.15, 0.135],
  [91.4, 0.28, 0.25, 0.225, 0.205, 0.185, 0.165, 0.15], [91.55, 0.3, 0.27, 0.24, 0.22, 0.2, 0.18, 0.16],
  [91.7, 0.34, 0.31, 0.28, 0.25, 0.225, 0.2, 0.18, 0.11], [91.85, 0.36, 0.33, 0.3, 0.27, 0.24, 0.21, 0.19],
  [92.0, 0.37, 0.34, 0.31, 0.28, 0.25, 0.22], [92.15, 0.38, 0.36, 0.34, 0.32, 0.3, 0.28, 0.26],
  [92.3, 0.39, 0.37, 0.35, 0.33, 0.31, 0.29, 0.27, 0.25], [92.45, 0.375, 0.355, 0.335, 0.315, 0.295, 0.275],
  [92.6, 0.385, 0.365, 0.345, 0.325, 0.305, 0.285, 0.26], [92.75, 0.37, 0.35, 0.33, 0.31, 0.29, 0.27],
  [92.9, 0.365, 0.345, 0.325, 0.305, 0.285, 0.265, 0.24], [93.05, 0.42, 0.36, 0.34, 0.32, 0.3, 0.28, 0.26],
  [93.2, 0.355, 0.335, 0.315, 0.295, 0.275, 0.255, 0.23], [93.35, 0.35, 0.33, 0.31, 0.29, 0.27, 0.25],
  [93.5, 0.36, 0.34, 0.32, 0.3, 0.28, 0.26, 0.24, 0.2], [93.65, 0.345, 0.325, 0.305, 0.285, 0.265, 0.245],
  [93.8, 0.41, 0.385, 0.365, 0.345, 0.325, 0.305, 0.285], [93.95, 0.395, 0.37, 0.35, 0.33, 0.31, 0.29, 0.27, 0.25],
  [94.1, 0.445, 0.38, 0.36, 0.34, 0.32, 0.3, 0.28], [94.25, 0.4, 0.375, 0.355, 0.335, 0.315, 0.295, 0.27],
  [94.4, 0.37, 0.35, 0.33, 0.31, 0.29, 0.27, 0.25], [94.55, 0.36, 0.34, 0.32, 0.3, 0.28, 0.26, 0.23],
  [94.7, 0.385, 0.355, 0.33, 0.31, 0.29, 0.27, 0.25], [94.85, 0.35, 0.33, 0.31, 0.29, 0.27, 0.25, 0.23],
  [95.0, 0.41, 0.34, 0.32, 0.3, 0.28, 0.26, 0.24], [95.15, 0.335, 0.315, 0.295, 0.275, 0.255, 0.235, 0.21],
  [95.3, 0.33, 0.31, 0.29, 0.27, 0.25, 0.23], [95.5, 0.35, 0.3, 0.28, 0.26, 0.24, 0.22],
  [95.65, 0.3, 0.28, 0.26, 0.24, 0.22, 0.2, 0.18], [95.8, 0.29, 0.27, 0.25, 0.23, 0.21, 0.19],
  [95.95, 0.28, 0.26, 0.24, 0.22, 0.2, 0.18], [96.1, 0.285, 0.265, 0.245, 0.225, 0.205, 0.185],
  [96.25, 0.27, 0.25, 0.23, 0.21, 0.19, 0.17], [96.4, 0.26, 0.24, 0.22, 0.2, 0.18],
  [96.55, 0.32, 0.25, 0.23, 0.21, 0.19, 0.17], [96.7, 0.23, 0.21, 0.19, 0.17, 0.15, 0.13, 0.11],
  [96.85, 0.22, 0.2, 0.18, 0.16, 0.14, 0.12, 0.1, 0.08], [97.0, 0.21, 0.19, 0.17, 0.15, 0.13, 0.11, 0.09, 0.07, 0.05],
  [97.15, 0.2, 0.18, 0.16, 0.14, 0.12, 0.1, 0.08, 0.06, 0.04], [97.3, 0.27, 0.19, 0.17, 0.15, 0.13, 0.11, 0.09, 0.03],
  [97.45, 0.26, 0.2, 0.18, 0.16, 0.14, 0.12, 0.1, 0.07, 0.045], [97.6, 0.29, 0.25, 0.22, 0.2, 0.18, 0.16, 0.14],
  [97.8, 0.28, 0.26, 0.24, 0.22, 0.2, 0.18, 0.16, 0.13, 0.1], [98.0, 0.35, 0.27, 0.25, 0.23, 0.21, 0.19, 0.17, 0.15],
  [98.2, 0.26, 0.24, 0.22, 0.2, 0.18, 0.16], [98.4, 0.345, 0.3, 0.27, 0.25, 0.23, 0.21, 0.19, 0.17, 0.15],
  [98.6, 0.28, 0.255, 0.235, 0.215, 0.195, 0.175], [98.8, 0.24, 0.22, 0.2, 0.18, 0.16, 0.14],
  [99.0, 0.26, 0.23, 0.21, 0.19, 0.17, 0.15, 0.13], [99.2, 0.28, 0.25, 0.22, 0.19, 0.16, 0.13, 0.1],
  [99.4, 0.25, 0.23, 0.2, 0.18, 0.15, 0.09, 0.065]
];
// extra readings in the densest stretches
const burstDense = [
  [22.45, 0.19, 0.175, 0.16, 0.145, 0.125], [22.65, 0.25, 0.23, 0.205, 0.185, 0.17, 0.155],
  [22.82, 0.29, 0.245, 0.225, 0.21, 0.195, 0.18, 0.165], [22.98, 0.32, 0.28, 0.26, 0.245, 0.23, 0.205, 0.19],
  [23.12, 0.31, 0.275, 0.26, 0.245, 0.23, 0.215, 0.2, 0.185], [23.28, 0.3, 0.255, 0.24, 0.225, 0.21, 0.195, 0.18],
  [23.42, 0.26, 0.24, 0.225, 0.21, 0.195, 0.18, 0.165], [23.58, 0.24, 0.225, 0.21, 0.195, 0.18, 0.165, 0.15],
  [23.72, 0.22, 0.205, 0.19, 0.175, 0.16, 0.14], [23.88, 0.21, 0.19, 0.175, 0.16, 0.145, 0.13, 0.115],
  [24.02, 0.19, 0.17, 0.155, 0.14, 0.125, 0.11],
  [25.2, 0.065, 0.05, 0.038, 0.028, 0.018], [25.6, 0.07, 0.055, 0.045, 0.035, 0.025, 0.018],
  [26.0, 0.06, 0.048, 0.036, 0.026, 0.016, 0.008], [26.4, 0.06, 0.05, 0.04, 0.032, 0.024, 0.016, 0.01],
  [26.8, 0.08, 0.065, 0.05, 0.04, 0.03, 0.02, 0.012], [27.2, 0.08, 0.07, 0.055, 0.042, 0.032, 0.022, 0.014],
  [29.1, 0.24, 0.215, 0.195, 0.175, 0.155, 0.14], [29.5, 0.21, 0.19, 0.17, 0.15, 0.13], [29.9, 0.21, 0.185, 0.165, 0.145],
  [30.4, 0.295, 0.28, 0.265, 0.25], [30.8, 0.29, 0.275, 0.26, 0.245], [31.2, 0.3, 0.28, 0.26, 0.24, 0.225],
  [31.6, 0.335, 0.315, 0.295, 0.275, 0.255], [32.0, 0.34, 0.325, 0.305, 0.29, 0.27], [32.4, 0.33, 0.31, 0.29, 0.27],
  [32.8, 0.35, 0.33, 0.31, 0.29],
  [33.32, 0.415, 0.4, 0.385, 0.37, 0.36, 0.345], [33.62, 0.405, 0.395, 0.385, 0.37, 0.355],
  [33.92, 0.395, 0.385, 0.375, 0.365, 0.35], [34.22, 0.405, 0.39, 0.375, 0.365, 0.355, 0.34],
  [34.52, 0.4, 0.39, 0.38, 0.37, 0.36, 0.345], [34.82, 0.405, 0.39, 0.38, 0.37, 0.36, 0.35],
  [35.12, 0.41, 0.395, 0.385, 0.375, 0.36, 0.35], [35.42, 0.4, 0.385, 0.375, 0.365, 0.35],
  [35.72, 0.39, 0.38, 0.365, 0.355, 0.34], [36.02, 0.395, 0.385, 0.37, 0.36, 0.35, 0.34],
  [36.38, 0.38, 0.365, 0.355, 0.34, 0.33], [36.68, 0.385, 0.37, 0.36, 0.35, 0.335],
  [36.98, 0.37, 0.355, 0.345, 0.33], [37.28, 0.365, 0.35, 0.34, 0.325], [37.58, 0.355, 0.345, 0.33, 0.32],
  [38.4, 0.32, 0.3, 0.285, 0.27, 0.255], [38.72, 0.32, 0.3, 0.285, 0.27, 0.255, 0.24],
  [39.02, 0.305, 0.29, 0.275, 0.26, 0.24, 0.22], [39.32, 0.3, 0.285, 0.27, 0.255, 0.24, 0.225],
  [39.62, 0.32, 0.305, 0.29, 0.275, 0.26, 0.24, 0.22], [39.92, 0.335, 0.315, 0.3, 0.28, 0.265, 0.25, 0.235],
  [40.22, 0.35, 0.33, 0.315, 0.295, 0.28, 0.26, 0.24], [40.52, 0.345, 0.325, 0.31, 0.29, 0.27, 0.255],
  [41.12, 0.385, 0.37, 0.36, 0.35, 0.34], [41.42, 0.38, 0.37, 0.36, 0.35, 0.34],
  [41.72, 0.375, 0.36, 0.35, 0.34, 0.33], [42.02, 0.37, 0.355, 0.345, 0.335],
  [42.32, 0.36, 0.345, 0.335, 0.325], [42.62, 0.35, 0.34, 0.33, 0.32],
  [43.12, 0.305, 0.285, 0.265, 0.245, 0.225, 0.21], [43.42, 0.31, 0.29, 0.27, 0.25, 0.23],
  [43.72, 0.325, 0.3, 0.28, 0.26, 0.24, 0.22], [44.28, 0.39, 0.37, 0.35, 0.33, 0.31, 0.29],
  [44.58, 0.405, 0.385, 0.365, 0.345, 0.325, 0.305, 0.285], [44.72, 0.395, 0.375, 0.355, 0.335, 0.315, 0.295],
  [45.1, 0.315, 0.295, 0.28, 0.265, 0.25], [45.5, 0.295, 0.28, 0.265, 0.25, 0.235],
  [46.08, 0.385, 0.36, 0.34, 0.32, 0.3, 0.26], [46.38, 0.39, 0.37, 0.35, 0.33, 0.31, 0.285],
  [46.68, 0.365, 0.35, 0.335, 0.315, 0.295], [46.98, 0.335, 0.315, 0.3, 0.28, 0.26],
  [47.5, 0.2, 0.185, 0.17, 0.155, 0.14, 0.125, 0.11], [47.7, 0.21, 0.19, 0.175, 0.16, 0.145, 0.13],
  [47.9, 0.2, 0.18, 0.165, 0.15, 0.135, 0.115], [48.1, 0.215, 0.195, 0.175, 0.16, 0.145, 0.13],
  [48.3, 0.27, 0.2, 0.185, 0.165, 0.15, 0.135, 0.12], [48.5, 0.255, 0.22, 0.19, 0.17, 0.155, 0.14, 0.125],
  [48.7, 0.25, 0.19, 0.17, 0.15, 0.13, 0.11], [48.9, 0.245, 0.185, 0.165, 0.145, 0.125, 0.1],
  [49.1, 0.18, 0.16, 0.14, 0.12, 0.1],
  [50.6, 0.21, 0.185, 0.16, 0.135, 0.105, 0.08, 0.055, 0.03], [51.0, 0.22, 0.19, 0.165, 0.14, 0.115, 0.085, 0.06, 0.035],
  [51.4, 0.2, 0.17, 0.145, 0.12, 0.095, 0.07, 0.045], [51.8, 0.2, 0.17, 0.14, 0.11, 0.085, 0.06],
  [52.2, 0.17, 0.14, 0.11, 0.085, 0.06, 0.04],
  [53.5, 0.11, 0.085, 0.065, 0.05, 0.038, 0.026, 0.012], [53.9, 0.08, 0.062, 0.047, 0.036, 0.025, 0.012],
  [54.3, 0.07, 0.055, 0.044, 0.034, 0.024, 0.012, 0.004], [54.7, 0.2, 0.165, 0.135, 0.11, 0.085, 0.065, 0.05, 0.036, 0.022],
  [55.1, 0.2, 0.165, 0.135, 0.105, 0.08, 0.06, 0.042, 0.028, 0.015], [55.5, 0.17, 0.14, 0.11, 0.085, 0.065, 0.048, 0.034, 0.02],
  [55.9, 0.1, 0.08, 0.062, 0.048, 0.035, 0.022, 0.01], [56.3, 0.095, 0.075, 0.058, 0.045, 0.033, 0.022, 0.012],
  [56.7, 0.1, 0.075, 0.055, 0.044, 0.033, 0.022, 0.012], [57.1, 0.105, 0.08, 0.062, 0.048, 0.036, 0.024, 0.012],
  [57.5, 0.115, 0.085, 0.065, 0.05, 0.038, 0.026, 0.014], [57.9, 0.1, 0.078, 0.06, 0.042, 0.03, 0.018, 0.006],
  [58.3, 0.095, 0.075, 0.058, 0.042, 0.03, 0.018, 0.008], [58.7, 0.12, 0.1, 0.075, 0.058, 0.042, 0.028, 0.014],
  [59.1, 0.22, 0.18, 0.15, 0.125, 0.1, 0.075, 0.055, 0.04], [59.5, 0.26, 0.225, 0.19, 0.155, 0.125, 0.095, 0.065, 0.045],
  [59.9, 0.27, 0.235, 0.2, 0.165, 0.13, 0.1, 0.07, 0.04],
  [60.6, 0.34, 0.31, 0.285, 0.26, 0.23, 0.2], [61.0, 0.33, 0.3, 0.275, 0.25, 0.225, 0.2],
  [61.2, 0.36, 0.31, 0.28, 0.255, 0.235, 0.21], [62.3, 0.41, 0.4, 0.37, 0.32, 0.28, 0.24, 0.2],
  [62.4, 0.42, 0.38, 0.34, 0.29, 0.25, 0.21],
  [63.52, 0.4, 0.375, 0.36, 0.345, 0.33, 0.315], [63.82, 0.405, 0.38, 0.365, 0.35, 0.335, 0.32],
  [64.12, 0.39, 0.375, 0.36, 0.345, 0.33, 0.31], [64.42, 0.385, 0.365, 0.35, 0.335, 0.32],
  [64.72, 0.36, 0.345, 0.33, 0.315],
  [65.8, 0.243, 0.218, 0.197, 0.173, 0.152, 0.128, 0.103], [66.0, 0.228, 0.207, 0.183, 0.162, 0.143, 0.122, 0.097],
  [66.2, 0.212, 0.192, 0.173, 0.157, 0.142, 0.127, 0.108], [66.4, 0.208, 0.187, 0.168, 0.152, 0.137, 0.117],
  [66.6, 0.198, 0.177, 0.158, 0.142, 0.127, 0.112], [66.8, 0.192, 0.172, 0.157, 0.142, 0.127, 0.107],
  [67.0, 0.207, 0.188, 0.167, 0.152, 0.137, 0.118, 0.097], [67.2, 0.193, 0.172, 0.153, 0.133, 0.113, 0.092],
  [67.4, 0.203, 0.183, 0.163, 0.143, 0.123, 0.098], [67.6, 0.227, 0.208, 0.188, 0.168, 0.147, 0.127],
  [67.8, 0.228, 0.207, 0.192, 0.173, 0.158, 0.138, 0.117], [68.0, 0.233, 0.212, 0.193, 0.173, 0.152, 0.132],
  [68.2, 0.253, 0.228, 0.203, 0.183, 0.162, 0.142, 0.122], [68.4, 0.272, 0.243, 0.223, 0.203, 0.183, 0.163, 0.138, 0.113],
  [68.6, 0.268, 0.237, 0.212, 0.193, 0.172, 0.153, 0.133, 0.108], [68.8, 0.263, 0.233, 0.208, 0.188, 0.168, 0.143, 0.118],
  [69.0, 0.253, 0.228, 0.203, 0.183, 0.163, 0.143, 0.122, 0.093], [69.2, 0.247, 0.223, 0.197, 0.178, 0.157, 0.138, 0.117],
  [69.4, 0.273, 0.243, 0.218, 0.193, 0.173, 0.148, 0.127], [69.6, 0.288, 0.257, 0.232, 0.208, 0.188, 0.163, 0.143, 0.113],
  [69.8, 0.283, 0.253, 0.228, 0.203, 0.178, 0.158, 0.138], [70.0, 0.258, 0.233, 0.212, 0.192, 0.168, 0.148, 0.128],
  [70.2, 0.262, 0.238, 0.218, 0.197, 0.178, 0.153, 0.133], [70.4, 0.293, 0.263, 0.238, 0.213, 0.193, 0.168, 0.148],
  [70.6, 0.318, 0.288, 0.258, 0.228, 0.198, 0.172, 0.153], [70.8, 0.348, 0.313, 0.273, 0.238, 0.208, 0.183, 0.157],
  [71.0, 0.333, 0.293, 0.253, 0.218, 0.193, 0.168],
  [73.08, 0.395, 0.375, 0.355, 0.34, 0.32], [73.38, 0.39, 0.37, 0.355, 0.34, 0.325, 0.305],
  [73.68, 0.38, 0.36, 0.345, 0.33, 0.31], [73.98, 0.37, 0.355, 0.34, 0.32, 0.3],
  [74.28, 0.365, 0.35, 0.335, 0.315], [74.42, 0.355, 0.34, 0.325],
  [77.5, 0.213, 0.192, 0.168, 0.148, 0.127, 0.112, 0.088], [77.7, 0.203, 0.177, 0.153, 0.138, 0.117, 0.093],
  [77.9, 0.242, 0.218, 0.193, 0.172, 0.153, 0.133, 0.118], [78.1, 0.252, 0.227, 0.198, 0.183, 0.158, 0.138],
  [78.3, 0.283, 0.252, 0.228, 0.207, 0.188, 0.173], [78.5, 0.318, 0.287, 0.262, 0.233, 0.212, 0.188],
  [78.7, 0.333, 0.298, 0.272, 0.243, 0.227, 0.203], [78.9, 0.322, 0.288, 0.267, 0.238, 0.218, 0.197],
  [79.1, 0.338, 0.313, 0.278, 0.257, 0.228, 0.212], [79.3, 0.297, 0.272, 0.238, 0.217, 0.188, 0.167, 0.138, 0.122],
  [79.5, 0.382, 0.343, 0.317, 0.283, 0.257, 0.223, 0.192, 0.158, 0.142, 0.113, 0.087],
  [79.7, 0.408, 0.372, 0.338, 0.312, 0.278, 0.252, 0.218], [79.9, 0.402, 0.368, 0.347, 0.313, 0.287, 0.258],
  [86.6, 0.29, 0.275, 0.26, 0.24, 0.215, 0.195], [86.8, 0.32, 0.3, 0.285, 0.27, 0.255],
  [87.0, 0.325, 0.305, 0.29, 0.275, 0.26, 0.245], [87.2, 0.33, 0.315, 0.295, 0.28, 0.265, 0.25],
  [87.4, 0.315, 0.3, 0.285, 0.27, 0.255],
  [90.58, 0.268, 0.247, 0.228, 0.207, 0.188, 0.168, 0.152], [90.88, 0.272, 0.243, 0.223, 0.203, 0.183, 0.163, 0.142, 0.122],
  [91.18, 0.263, 0.238, 0.218, 0.197, 0.173, 0.158, 0.138], [91.48, 0.293, 0.263, 0.233, 0.213, 0.192, 0.172, 0.153],
  [91.78, 0.352, 0.318, 0.292, 0.263, 0.232, 0.213, 0.188], [92.08, 0.373, 0.348, 0.322, 0.303, 0.273, 0.243, 0.218],
  [92.38, 0.383, 0.358, 0.343, 0.318, 0.303, 0.283, 0.258], [92.68, 0.372, 0.353, 0.338, 0.313, 0.292, 0.273, 0.252],
  [92.98, 0.363, 0.338, 0.323, 0.298, 0.283, 0.258, 0.238], [93.28, 0.348, 0.333, 0.308, 0.293, 0.268, 0.248, 0.223],
  [93.58, 0.358, 0.332, 0.318, 0.292, 0.278, 0.252, 0.232], [93.88, 0.403, 0.373, 0.358, 0.332, 0.318, 0.292, 0.278],
  [94.18, 0.392, 0.368, 0.353, 0.328, 0.313, 0.288, 0.263], [94.48, 0.368, 0.343, 0.328, 0.303, 0.288, 0.263, 0.243],
  [94.78, 0.373, 0.342, 0.323, 0.298, 0.283, 0.258, 0.238], [95.08, 0.342, 0.328, 0.302, 0.288, 0.262, 0.248, 0.222],
  [95.4, 0.328, 0.302, 0.288, 0.262, 0.248, 0.222, 0.203], [95.72, 0.292, 0.278, 0.252, 0.238, 0.212, 0.198, 0.172],
  [96.02, 0.288, 0.262, 0.248, 0.222, 0.208, 0.182], [96.32, 0.262, 0.248, 0.222, 0.208, 0.182, 0.168],
  [96.62, 0.248, 0.222, 0.208, 0.182, 0.168, 0.142, 0.128], [96.92, 0.212, 0.198, 0.172, 0.158, 0.132, 0.118, 0.092, 0.078],
  [97.22, 0.208, 0.182, 0.168, 0.142, 0.128, 0.102, 0.088, 0.062, 0.053],
  [97.52, 0.273, 0.232, 0.213, 0.187, 0.173, 0.147, 0.133, 0.107, 0.088],
  [97.9, 0.293, 0.262, 0.248, 0.222, 0.208, 0.182, 0.168, 0.137, 0.118],
  [98.3, 0.272, 0.253, 0.227, 0.213, 0.187, 0.173, 0.152], [98.7, 0.263, 0.232, 0.218, 0.192, 0.178, 0.152, 0.138],
  [99.1, 0.273, 0.237, 0.218, 0.182, 0.158, 0.122, 0.108], [99.3, 0.232, 0.213, 0.187, 0.168, 0.137, 0.118]
];

const dateTicks = ["14/04", "28/04", "12/05", "26/05", "09/06", "23/06", "07/07"];
const dateMinorTicks = ["07/04", "21/04", "05/05", "19/05", "02/06", "16/06", "30/06", "14/07"];
const rateTicks = [0, 50, 100, 150, 200, 250, 300];
const burstTicks = [0, 0.05, 0.1, 0.15, 0.2, 0.25, 0.3, 0.35, 0.4, 0.45];

const t0 = Date.UTC(2003, 3, 1);
const toDate = d => new Date(t0 + d * 864e5);
const parseDay = d3.utcParse("%d/%m/%Y");
const flatten = cols => cols.flatMap(c => c.slice(1).map(v => ({ day: c[0], value: v })));
const fontFamily = '"Liberation Sans", Arial, Helvetica, sans-serif';

const svg = d3.select("#chart");
const left = 92, right = 1154;

const x = d3.scaleUtc()
    .domain([toDate(-0.2), toDate(108.8)])
    .range([left, right]);

function drawPanel(cfg) {
  const y = d3.scaleLinear().domain([0, cfg.yMax]).range([cfg.bottom, cfg.top]);
  const g = svg.append("g");

  // grid
  const majorX = dateTicks.map(s => parseDay(s + "/2003"));
  g.selectAll(".gx").data(majorX).enter().append("line")
    .attr("x1", d => x(d)).attr("x2", d => x(d))
    .attr("y1", cfg.top).attr("y2", cfg.bottom)
    .attr("stroke", "#000").attr("stroke-width", 1.4).attr("stroke-dasharray", "2,4.3");
  g.selectAll(".gy").data(cfg.ticks.filter(v => v > 0)).enter().append("line")
    .attr("x1", left).attr("x2", right)
    .attr("y1", d => y(d)).attr("y2", d => y(d))
    .attr("stroke", "#000").attr("stroke-width", 1.4).attr("stroke-dasharray", "2,4.3");

  // points
  g.append("g").selectAll("circle").data(flatten(cfg.data)).enter().append("circle")
    .attr("cx", d => x(toDate(d.day)))
    .attr("cy", d => y(d.value))
    .attr("r", 2.2)
    .attr("fill", "#000");

  // frame
  g.append("rect")
    .attr("x", left).attr("y", cfg.top)
    .attr("width", right - left).attr("height", cfg.bottom - cfg.top)
    .attr("fill", "none").attr("stroke", "#000").attr("stroke-width", 1.5);

  // x axis
  const xMinor = d3.axisBottom(x)
    .tickValues(dateMinorTicks.map(s => parseDay(s + "/2003")))
    .tickSize(-5).tickSizeOuter(0).tickFormat("");
  const xMajor = d3.axisBottom(x)
    .tickValues(majorX)
    .tickSize(-10).tickSizeOuter(0).tickPadding(8.5)
    .tickFormat(d3.utcFormat("%d/%m"));
  g.append("g").attr("transform", `translate(0,${cfg.bottom})`).call(xMinor);
  g.append("g").attr("transform", `translate(0,${cfg.bottom})`).call(xMajor);

  // y axis
  const yMinor = d3.axisLeft(y).tickValues(cfg.minor).tickSize(-12.7).tickSizeOuter(0).tickFormat("");
  const yMajor = d3.axisLeft(y).tickValues(cfg.ticks).tickSize(-26).tickSizeOuter(0).tickPadding(10)
    .tickFormat(d => String(+d.toFixed(2)));
  g.append("g").attr("transform", `translate(${left},0)`).call(yMinor);
  g.append("g").attr("transform", `translate(${left},0)`).call(yMajor);

  g.selectAll(".domain").attr("stroke-width", 2);
  g.selectAll(".tick line").attr("stroke-width", 1.5);

  // titles
  g.append("text")
    .attr("x", 1148).attr("y", cfg.bottom + 50)
    .attr("text-anchor", "end").attr("font-size", 23)
    .text("date (day/month/2003)");
  g.append("text")
    .attr("transform", `translate(32,${cfg.top + 3}) rotate(-90)`)
    .attr("text-anchor", "end").attr("font-size", 23)
    .text(cfg.title);

  g.selectAll(".tick text").attr("font-size", 22);
  // heavier lettering, like the Helvetica Bold of the original
  g.selectAll("text")
    .attr("font-family", fontFamily)
    .attr("font-weight", "bold")
    .style("font-family", fontFamily)
    .style("font-weight", "bold")
    .attr("fill", "#000")
    .attr("stroke", "#000")
    .attr("stroke-width", 0.6)
    .attr("stroke-linejoin", "round");
}

drawPanel({
  top: 12, bottom: 386, yMax: 348.8,
  ticks: rateTicks, minor: d3.range(0, 341, 10),
  data: [...rateEarly, ...rateMid, ...rateLate, ...rateDense],
  title: "baseline rate (kHz)"
});

drawPanel({
  top: 481, bottom: 855.7, yMax: 0.49,
  ticks: burstTicks, minor: d3.range(0, 0.4901, 0.01),
  data: [...burstEarly, ...burstMid, ...burstLate, ...burstDense],
  title: "burst fraction"
});
</script>
</body>
</html>
